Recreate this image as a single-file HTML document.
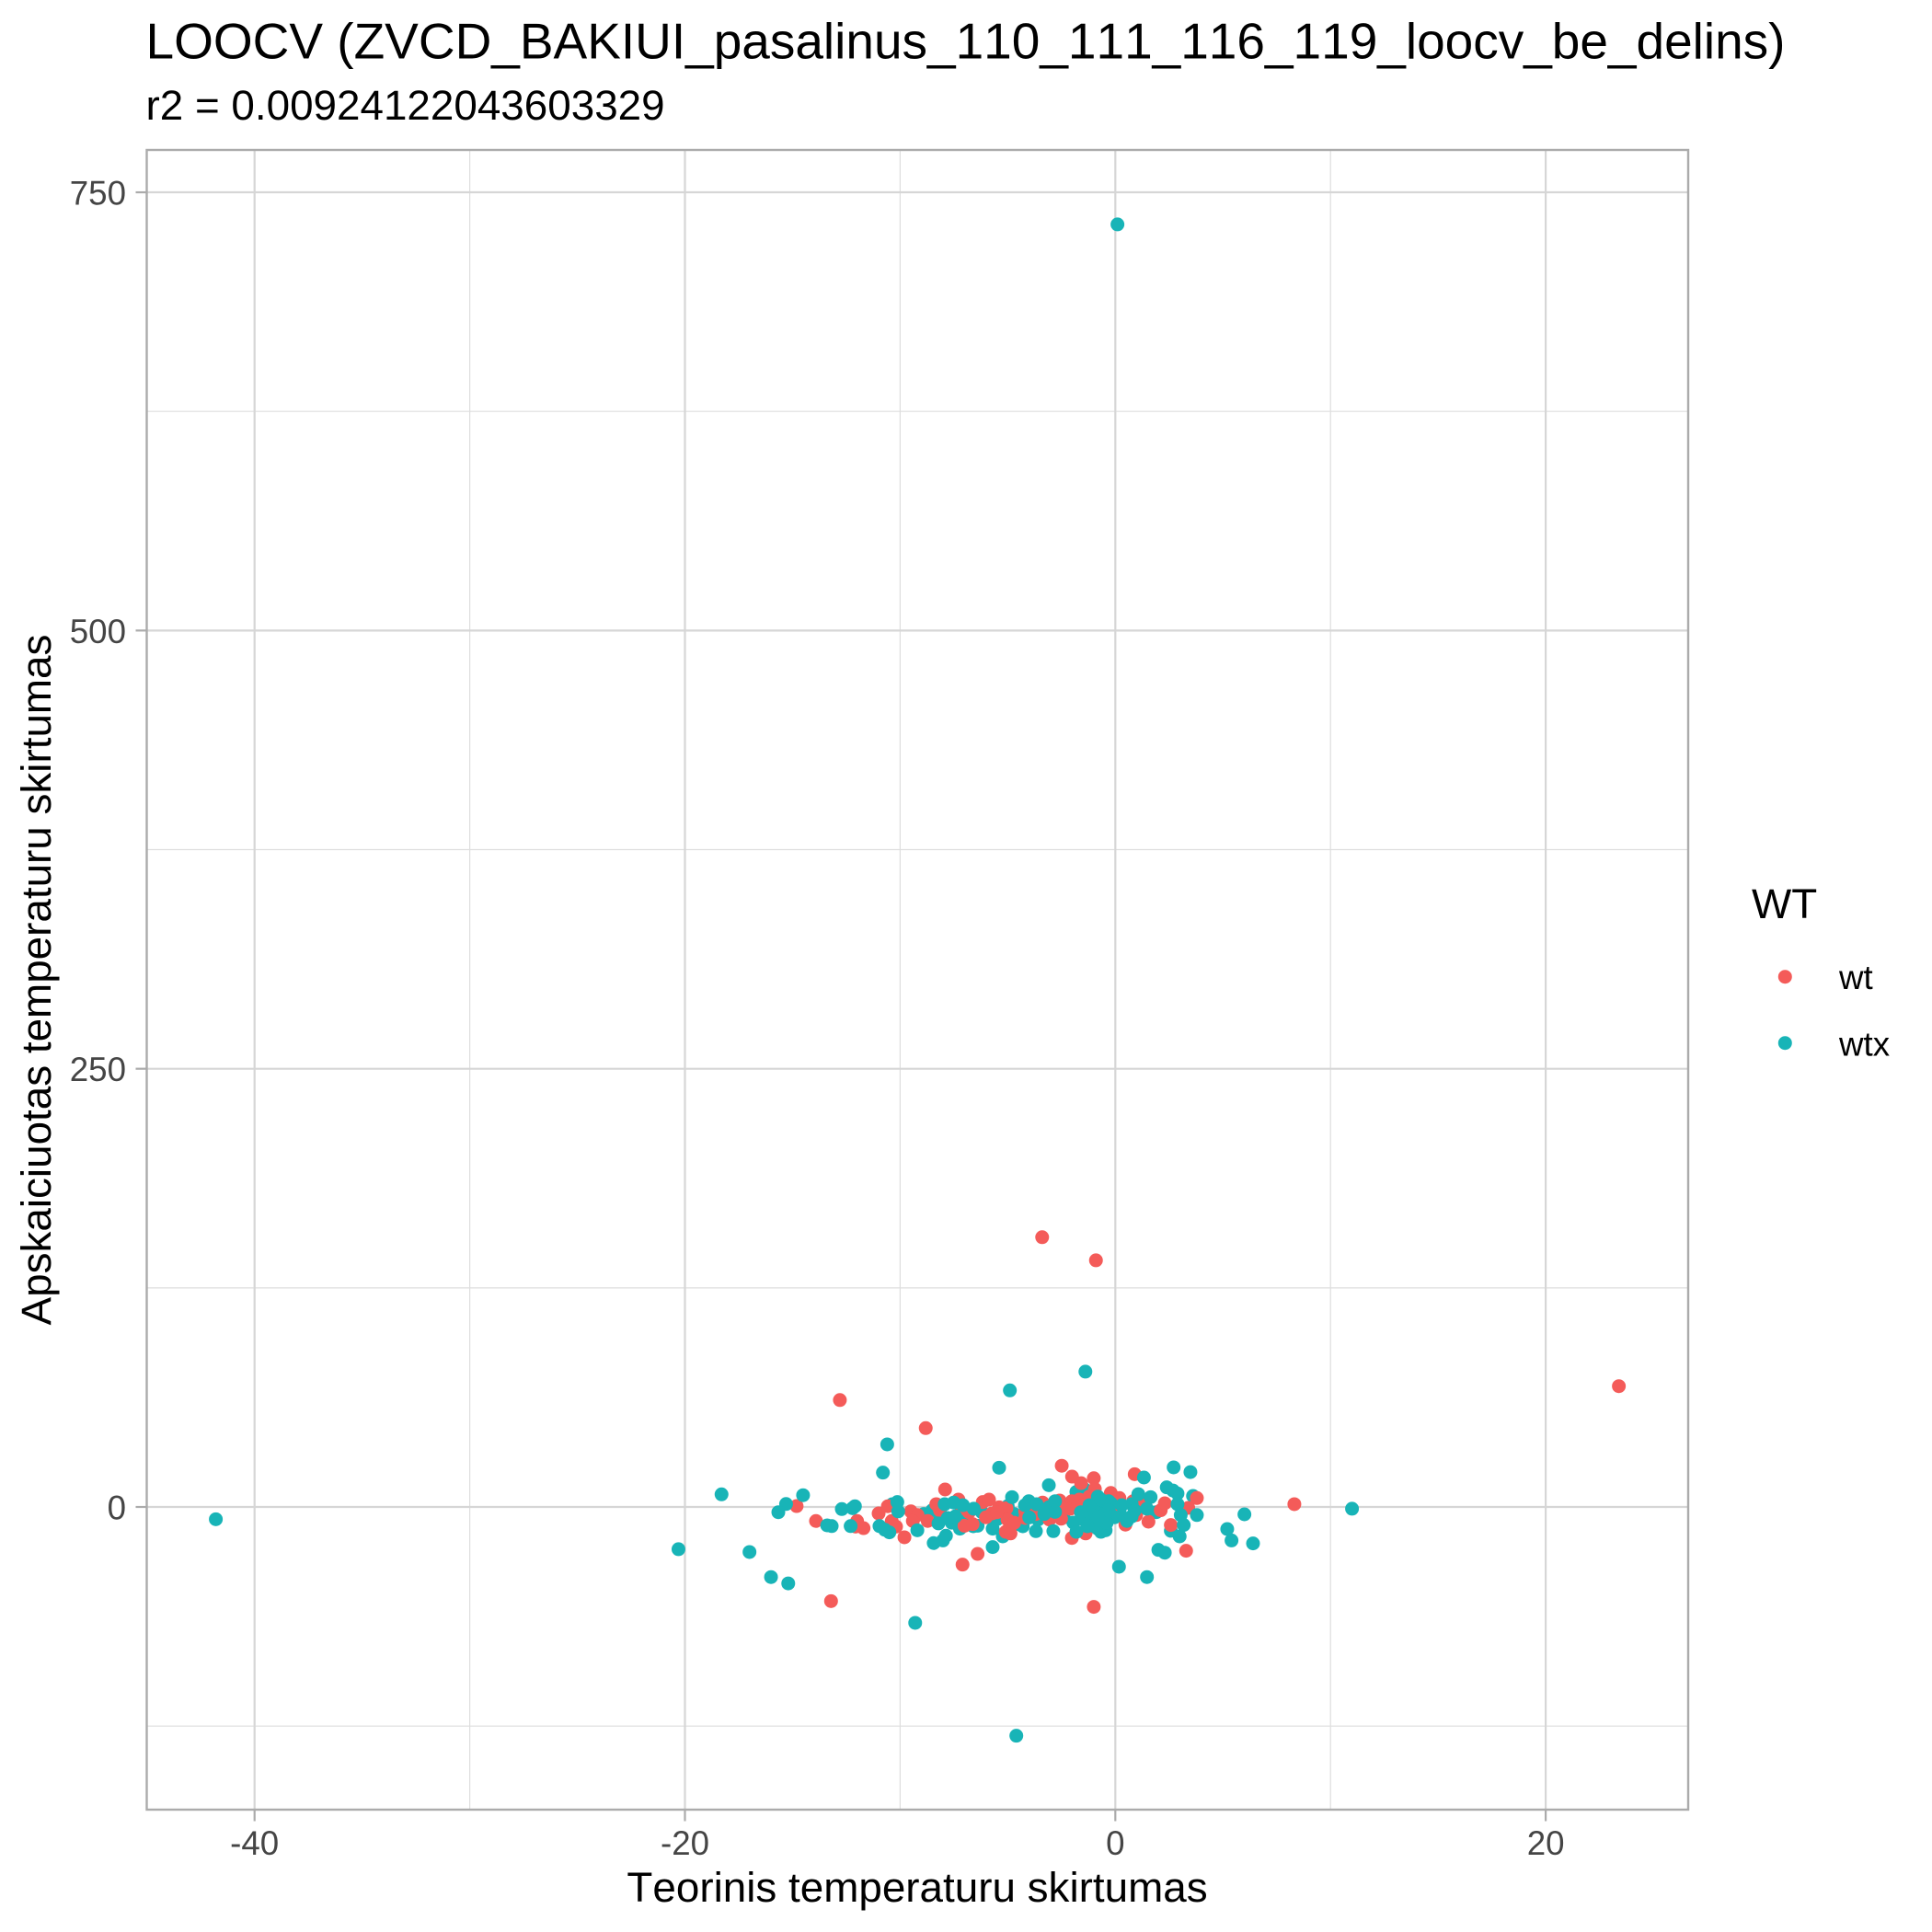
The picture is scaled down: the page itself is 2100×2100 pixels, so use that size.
<!DOCTYPE html>
<html lang="lt">
<head>
<meta charset="utf-8">
<title>LOOCV scatter</title>
<style>
html,body{margin:0;padding:0;background:#fff;}
svg{display:block;font-family:"Liberation Sans",Arial,sans-serif;font-kerning:none;}
</style>
</head>
<body>
<svg id="chart" xmlns="http://www.w3.org/2000/svg" width="2100" height="2100" viewBox="0 0 2100 2100">
<rect x="0" y="0" width="2100" height="2100" fill="#ffffff"/>
<text x="158.5" y="63.3" font-size="55" fill="#000" textLength="1782" lengthAdjust="spacing">LOOCV (ZVCD_BAKIUI_pasalinus_110_111_116_119_loocv_be_delins)</text>
<text x="158.5" y="130" font-size="45.8" fill="#000">r2 = 0.00924122043603329</text>
<g id="grid"></g>
<g id="points"></g>
<rect x="159.5" y="163" width="1675.5" height="1804" fill="none" stroke="#ababab" stroke-width="2.4"/>
<g id="axes"></g>
<text x="997" y="2067" font-size="45.8" text-anchor="middle" fill="#000">Teorinis temperaturu skirtumas</text>
<text transform="translate(55,1065) rotate(-90)" font-size="45.8" text-anchor="middle" fill="#000">Apskaiciuotas temperaturu skirtumas</text>
<g>
<text x="1904" y="998" font-size="45.8" fill="#000">WT</text>
<circle cx="1940.3" cy="1061.7" r="7.5" fill="#f45b59"/>
<text x="1999" y="1075" font-size="36.7" fill="#000">wt</text>
<circle cx="1940.3" cy="1133.7" r="7.5" fill="#18b4b7"/>
<text x="1999" y="1147.3" font-size="36.7" fill="#000">wtx</text>
</g>
</svg>
<script>
const xMajorTicks = [-40, -20, 0, 20];
const xMinorTicks = [-30, -10, 10];
const yMajorTicks = [0, 250, 500, 750];
const yMinorTicks = [-125, 125, 375, 625];

const wtxBackX = [-10.36,-8.51,-8.25,-7.22,-6.4,-5.7,-5.23,-1.81,-1.45,2.58,3.61,-3.59,-1.95,-4.51,-8.9,-7.6,-6.9,-6.2,-5.5,-4.7,-4.3,-3.4,-2.4,-0.9,-5.0,-6.6,0.2,1.0,1.9];
const wtxBackY = [1.6,-1.9,-8.9,-12.4,-10.7,-12.4,-16.8,8.6,10.3,-13.6,6.3,-7.2,-8.9,-9.8,-4.0,-9.0,-6.0,-3.0,-7.0,-4.0,-11.0,-4.0,-6.0,-9.0,0.5,-11.0,-3.0,-2.0,-3.0];

const wtX = [-3.40,-0.90,-12.8,-8.81,23.4,-14.81,-13.91,-12.0,-12.07,-11.7,-11.0,-10.57,-10.39,-10.19,-9.8,-9.5,-9.19,-9.41,-8.72,-8.32,-13.21,-7.1,-6.4,-1.0,-7.91,-8.15,-7.29,-7.15,-7.01,-6.63,-6.16,-5.87,-6.01,-5.73,-5.4,-5.06,-5.01,-5.09,-4.87,-4.19,-4.19,-3.38,-3.06,-2.52,-2.59,-2.49,-2.01,-1.59,-1.0,-0.95,-2.02,-1.38,-2.02,-1.67,-2.09,-1.74,-0.21,0.19,0.04,-0.17,-0.31,0.47,0.83,1.26,0.97,1.54,0.9,2.11,2.3,3.79,3.39,2.58,3.29,8.32,-2.4,-1.2,-3.7,-4.7,-5.5,-6.8,-1.5,-2.9];
const wtY = [153.9,140.7,61.0,45.0,68.9,0.5,-8,-8,-11.2,-12.1,-3.7,0.4,-8,-11.2,-17.3,-2.5,-4.6,-8,-8,1.6,-53.7,-32.9,-26.8,-57.0,10,-1.9,4.2,-0.7,-10.7,-9.8,2.8,4.2,-5.9,-3.7,-0.2,-0.7,-7.2,-14.2,-15.1,-2.5,-6.3,2.5,-7.2,-6.7,3.7,23.5,17.3,13.6,16.4,10.3,-17.7,-15.1,3.3,4.2,-1,1.0,8.0,5.1,2.5,-0.2,-5.9,-10.1,3.3,1.6,-4.6,-8.4,18.7,-1.9,2.1,5.1,-0.5,-10.3,-25,1.6,-1.0,6.0,-4.0,-9.0,-3.0,-3.0,1.0,-4.0];

const wtxFrontX = [0.1,-1.39,-4.90,-10.6,-41.8,-10.8,-18.3,-14.51,-15.3,-15.66,-12.71,-12.1,-12.21,-13.39,-13.18,-12.3,-10.13,-10.09,-10.96,-10.71,-10.5,-9.2,-8.44,-20.3,-17.0,-16.0,-15.2,-9.3,-5.7,-8.01,-7.87,-4.6,0.17,1.47,2.0,2.3,-7.93,-7.51,-7.08,-6.58,-8.22,-7.79,-7.44,-5.4,-4.8,-4.02,-3.69,-3.66,-3.09,-3.09,-2.88,-2.8,-2.8,-1.81,-1.31,-1.03,-0.67,-0.81,-0.67,-1.09,-0.6,-0.45,-0.81,-0.6,-0.67,-0.31,-0.03,0.54,0.76,0.76,1.07,1.64,1.47,1.33,2.71,3.49,2.39,2.68,2.89,2.89,3.04,3.79,3.18,2.99,6.0,5.2,5.4,6.4,11.0,-0.82,-0.45,-1.09,-0.9,-1.2,-0.5,-0.2,-1.5,-0.9,-0.4,-1.3,-1.6,-3.3,-4.2,-4.0,0.3,-0.3,-0.8,0.9];
const wtxFrontY = [731.7,77.2,66.5,35.7,-7.0,19.6,7.2,6.7,1.7,-3.0,-1.2,0.4,-0.7,-10.5,-10.9,-10.9,2.8,-2.5,-10.9,-13.0,-14.5,-13.3,-20.6,-24.1,-25.7,-40.0,-43.6,-66.1,-22.9,-19.1,-16.4,-130.5,-34.1,-40.0,-24.5,-26.1,1.6,2.5,1.0,-1.0,-9.4,-6.3,-5.4,22.4,5.6,3.3,-13.8,1.6,-0.2,12.4,-13.8,3.3,-2.8,-14.2,-4.6,-10.7,-14.2,5.9,0.7,-2.8,-6.3,-13.3,-8.0,-1.0,4.2,3.3,-5.9,-8.0,1.6,-5.4,7.3,5.6,-1.0,16.8,22.6,19.9,11.2,9.4,7.7,1.6,-4.6,-4.6,-10.3,-16.8,-4.2,-12.6,-19.1,-20.8,-1.0,-12.4,-9.0,-9.8,-3.0,1.0,-4.0,2.0,-7.0,-11.0,-9.0,-11.0,-3.0,-4.0,1.0,-6.0,1.0,-2.0,-6.0,-2.0];

const wtColor = '#f45b59';
const wtxColor = '#18b4b7';
const SVGNS = 'http://www.w3.org/2000/svg';

function xScale(v) { return 1212.3 + v * 23.39; }
function yScale(v) { return 1638 - v * 1.9053; }

function makeLine(parent, x1, y1, x2, y2, color, width) {
  const el = document.createElementNS(SVGNS, 'line');
  el.setAttribute('x1', x1);
  el.setAttribute('y1', y1);
  el.setAttribute('x2', x2);
  el.setAttribute('y2', y2);
  el.setAttribute('stroke', color);
  el.setAttribute('stroke-width', width);
  parent.appendChild(el);
  return el;
}

const grid = document.getElementById('grid');
const axes = document.getElementById('axes');
const pointsLayer = document.getElementById('points');

xMinorTicks.forEach(function (t) {
  const el = makeLine(grid, xScale(t), 163, xScale(t), 1967, '#dedede', 1.2);
  
  
});
yMinorTicks.forEach(function (t) {
  const el = makeLine(grid, 159.5, yScale(t), 1835, yScale(t), '#dedede', 1.2);
  
  
});
xMajorTicks.forEach(function (t) {
  const el = makeLine(grid, xScale(t), 163, xScale(t), 1967, '#d6d6d6', 2.2);
  
  
  const tick = makeLine(axes, xScale(t), 1967, xScale(t), 1979.5, '#ababab', 2.2);
  
  
  const label = document.createElementNS(SVGNS, 'text');
  label.setAttribute('x', xScale(t));
  label.setAttribute('y', 2016);
  label.setAttribute('font-size', '36.7');
  label.setAttribute('text-anchor', 'middle');
  label.setAttribute('fill', '#454545');
  
  
  label.textContent = String(t);
  axes.appendChild(label);
});
yMajorTicks.forEach(function (t) {
  const el = makeLine(grid, 159.5, yScale(t), 1835, yScale(t), '#d6d6d6', 2.2);
  
  
  const tick = makeLine(axes, 147.5, yScale(t), 159.5, yScale(t), '#ababab', 2.2);
  
  
  const label = document.createElementNS(SVGNS, 'text');
  label.setAttribute('x', 137);
  label.setAttribute('y', yScale(t) + 13.5);
  label.setAttribute('font-size', '36.7');
  label.setAttribute('text-anchor', 'end');
  label.setAttribute('fill', '#454545');
  
  
  label.textContent = String(t);
  axes.appendChild(label);
});

function drawPoints(xs, ys, color, seriesName) {
  xs.forEach(function (xv, i) {
    const c = document.createElementNS(SVGNS, 'circle');
    c.setAttribute('cx', xScale(xv));
    c.setAttribute('cy', yScale(ys[i]));
    c.setAttribute('r', 7.5);
    c.setAttribute('fill', color);
    
    
    pointsLayer.appendChild(c);
  });
}

drawPoints(wtxBackX, wtxBackY, wtxColor, 'point-wtx');
drawPoints(wtX, wtY, wtColor, 'point-wt');
drawPoints(wtxFrontX, wtxFrontY, wtxColor, 'point-wtx');
</script>
</body>
</html>
